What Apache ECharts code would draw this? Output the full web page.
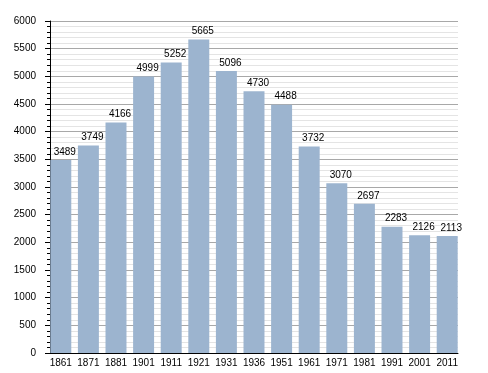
<!DOCTYPE html>
<html>
<head>
<meta charset="utf-8">
<script src="https://cdn.jsdelivr.net/npm/echarts@6/dist/echarts.min.js"></script>
<style>html,body{margin:0;padding:0;background:#fff;}#c{width:488px;height:373px;}</style>
</head>
<body>
<div id="c"></div>
<script>
const categories = ['1861','1871','1881','1901','1911','1921','1931','1936','1951','1961','1971','1981','1991','2001','2011'];
const population = [3489,3749,4166,4999,5252,5665,5096,4730,4488,3732,3070,2697,2283,2126,2113];
const yTicks = [0,500,1000,1500,2000,2500,3000,3500,4000,4500,5000,5500,6000];

const font = 'Liberation Sans, Arial, sans-serif';
const chart = echarts.init(document.getElementById('c'), null, {renderer:'canvas'});
chart.setOption({
  animation: false,
  backgroundColor: '#fff',
  grid: [
    {left: 50, right: 30, top: 21, bottom: 20},
    {left: 47, right: 27, top: 21, bottom: 20}
  ],
  xAxis: [
    {gridIndex: 0, type: 'value', min: 0, max: 1, axisLine: {show: true, onZero: false, lineStyle: {color: '#000', width: 1}},
     axisTick: {show: false}, axisLabel: {show: false}, splitLine: {show: false}},
    {gridIndex: 1, type: 'category', data: categories, axisLine: {show: false}, axisTick: {show: false},
     axisLabel: {color: '#000', fontSize: 10, fontFamily: font, margin: 5, interval: 0}}
  ],
  yAxis: [
    {gridIndex: 0, type: 'value', min: yTicks[0], max: yTicks[yTicks.length-1], interval: 500,
     axisLine: {show: true, lineStyle: {color: '#000', width: 1}},
     axisTick: {show: true, length: 5, lineStyle: {color: '#000'}},
     minorTick: {show: true, splitNumber: 5, length: 3, lineStyle: {color: '#000'}},
     axisLabel: {color: '#000', fontSize: 10, fontFamily: font, margin: 14, formatter: v => String(v)},
     splitLine: {show: true, lineStyle: {color: '#a8a8a8', width: 1}},
     minorSplitLine: {show: true, lineStyle: {color: '#e4e4e4', width: 1}}},
    {gridIndex: 1, type: 'value', min: yTicks[0], max: yTicks[yTicks.length-1], show: false, splitLine: {show: false}}
  ],
  series: [{
    type: 'bar', xAxisIndex: 1, yAxisIndex: 1, data: population,
    barCategoryGap: '24%',
    itemStyle: {color: '#9cb4cf'},
    label: {show: true, position: 'top', distance: 3, offset: [4, 0], color: '#000', fontSize: 10, fontFamily: font}
  }]
});
</script>
</body>
</html>
